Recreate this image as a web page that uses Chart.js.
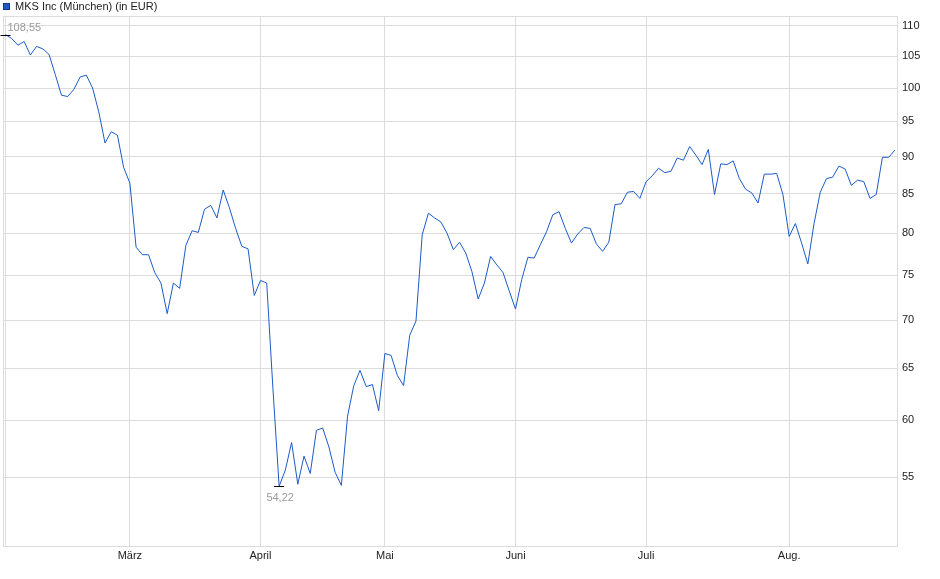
<!DOCTYPE html>
<html>
<head>
<meta charset="utf-8">
<script src="https://cdn.jsdelivr.net/npm/chart.js@4"></script>
<style>
  html, body { margin: 0; padding: 0; background: #fff; }
  canvas { display: block; }
</style>
</head>
<body>
<canvas id="kursChart" width="940" height="579"></canvas>
<script>
// MKS Inc (München), Schlusskurse je Handelstag, Feb. - Aug.
const seriesName = 'MKS Inc (München) (in EUR)';

const prices = [
  108.55, 107.9, 106.8, 107.4, 105.2, 106.6, 106.2, 105.3, 102.1, 98.9,
  98.7, 99.8, 101.7, 102.0, 100.0, 96.4, 91.9, 93.5, 93.0, 88.5,
  86.4, 78.3, 77.4, 77.4, 75.3, 74.1, 70.7, 74.1, 73.5, 78.5,
  80.3, 80.1, 83.0, 83.5, 81.9, 85.5, 83.2, 80.6, 78.4, 78.1,
  72.7, 74.4, 74.1, 63.0, 54.22, 55.6, 58.0, 54.4, 56.8, 55.3,
  59.1, 59.3, 57.6, 55.4, 54.3, 60.4, 63.3, 64.8, 63.2, 63.4,
  60.9, 66.5, 66.3, 64.3, 63.3, 68.4, 69.9, 79.8, 82.5, 81.9,
  81.4, 80.0, 78.0, 78.9, 77.6, 75.4, 72.3, 74.1, 77.2, 76.2,
  75.3, 73.2, 71.2, 74.5, 77.1, 77.0, 78.6, 80.2, 82.3, 82.7,
  80.6, 78.8, 79.9, 80.7, 80.6, 78.7, 77.8, 78.9, 83.6, 83.7,
  85.2, 85.3, 84.4, 86.6, 87.4, 88.4, 87.8, 88.0, 89.8, 89.5,
  91.4, 90.2, 88.9, 91.0, 84.9, 89.0, 88.9, 89.4, 87.0, 85.6,
  85.1, 83.8, 87.6, 87.6, 87.7, 84.9, 79.6, 81.2, 78.8, 76.3,
  81.2, 85.2, 87.0, 87.2, 88.7, 88.3, 86.1, 86.8, 86.6, 84.4,
  84.9, 89.9, 89.9, 90.9
];

// erster Handelstag je Monat (Index in prices)
const monthStart = [0, 20, 41, 61, 82, 103, 126];
const monthNames = ['', 'März', 'April', 'Mai', 'Juni', 'Juli', 'Aug.'];

const yTicks = [55, 60, 65, 70, 75, 80, 85, 90, 95, 100, 105, 110];

const lineColor = '#1c5bc6';
const gridColor = '#dcdcdc';
const fontFamily = "'Liberation Sans', Arial, sans-serif";

const fmt = v => v.toFixed(2).replace('.', ',');

const points = prices.map((p, i) => ({ x: i, y: p }));

// Rahmen, Legende und Hoch/Tief-Markierungen
const extras = {
  id: 'extras',
  beforeDatasetsDraw(chart) {
    const ctx = chart.ctx;
    const a = chart.chartArea;
    ctx.save();
    ctx.strokeStyle = gridColor;
    ctx.lineWidth = 1;
    ctx.strokeRect(Math.round(a.left) + 0.5, Math.round(a.top) + 0.5,
      Math.round(a.right - a.left) - 1, Math.round(a.bottom - a.top));
    ctx.restore();
  },
  afterDatasetsDraw(chart) {
    const ctx = chart.ctx;
    const xs = chart.scales.x;
    const ys = chart.scales.y;
    ctx.save();

    // Legende
    ctx.fillStyle = lineColor;
    ctx.fillRect(3, 3, 7, 7);
    ctx.strokeStyle = '#123a80';
    ctx.lineWidth = 1;
    ctx.strokeRect(3.5, 3.5, 6, 6);
    ctx.fillStyle = '#222';
    ctx.font = '11px ' + fontFamily;
    ctx.textBaseline = 'middle';
    ctx.textAlign = 'left';
    ctx.fillText(seriesName, 15, 7);

    // Hoch
    const maxV = Math.max(...prices);
    const iMax = prices.indexOf(maxV);
    const mx = xs.getPixelForValue(iMax);
    const my = Math.round(ys.getPixelForValue(maxV)) + 0.5;
    ctx.strokeStyle = '#000';
    ctx.beginPath();
    ctx.moveTo(mx - 5, my);
    ctx.lineTo(mx + 5, my);
    ctx.stroke();
    ctx.fillStyle = '#9a9a9a';
    ctx.textAlign = 'left';
    ctx.fillText(fmt(maxV), mx + 2, my - 8);

    // Tief
    const minV = Math.min(...prices);
    const iMin = prices.indexOf(minV);
    const nx = xs.getPixelForValue(iMin);
    const ny = Math.round(ys.getPixelForValue(minV)) + 0.5;
    ctx.beginPath();
    ctx.moveTo(nx - 5, ny);
    ctx.lineTo(nx + 5, ny);
    ctx.stroke();
    ctx.textAlign = 'center';
    ctx.fillText(fmt(minV), nx + 1, ny + 11);

    ctx.restore();
  }
};

const config = {
  type: 'line',
  data: {
    datasets: [{
      label: seriesName,
      data: points,
      borderColor: lineColor,
      borderWidth: 1,
      pointRadius: 0,
      tension: 0,
      fill: false
    }]
  },
  options: {
    responsive: false,
    animation: false,
    layout: { padding: { top: 16, left: 3, right: 0, bottom: 0 } },
    plugins: {
      legend: { display: false },
      tooltip: { enabled: false }
    },
    scales: {
      x: {
        type: 'linear',
        min: -0.4,
        max: 143.5,
        afterBuildTicks: s => { s.ticks = monthStart.map(v => ({ value: v })); },
        afterFit: s => { s.height = 33; },
        grid: { color: gridColor, drawTicks: false },
        border: { display: false },
        ticks: {
          padding: 3,
          color: '#222',
          font: { family: fontFamily, size: 11 },
          autoSkip: false,
          maxRotation: 0,
          callback: v => monthNames[monthStart.indexOf(v)] || ''
        }
      },
      y: {
        type: 'logarithmic',
        position: 'right',
        min: 49.47,
        max: 111.7,
        afterBuildTicks: s => { s.ticks = yTicks.map(v => ({ value: v })); },
        afterFit: s => { s.width = 42; },
        grid: { color: gridColor, drawTicks: false },
        border: { display: false },
        ticks: {
          padding: 4,
          color: '#222',
          font: { family: fontFamily, size: 11 },
          autoSkip: false,
          callback: v => String(v)
        }
      }
    }
  },
  plugins: [extras]
};

const kursChart = new Chart(document.getElementById('kursChart'), config);
</script>
</body>
</html>
